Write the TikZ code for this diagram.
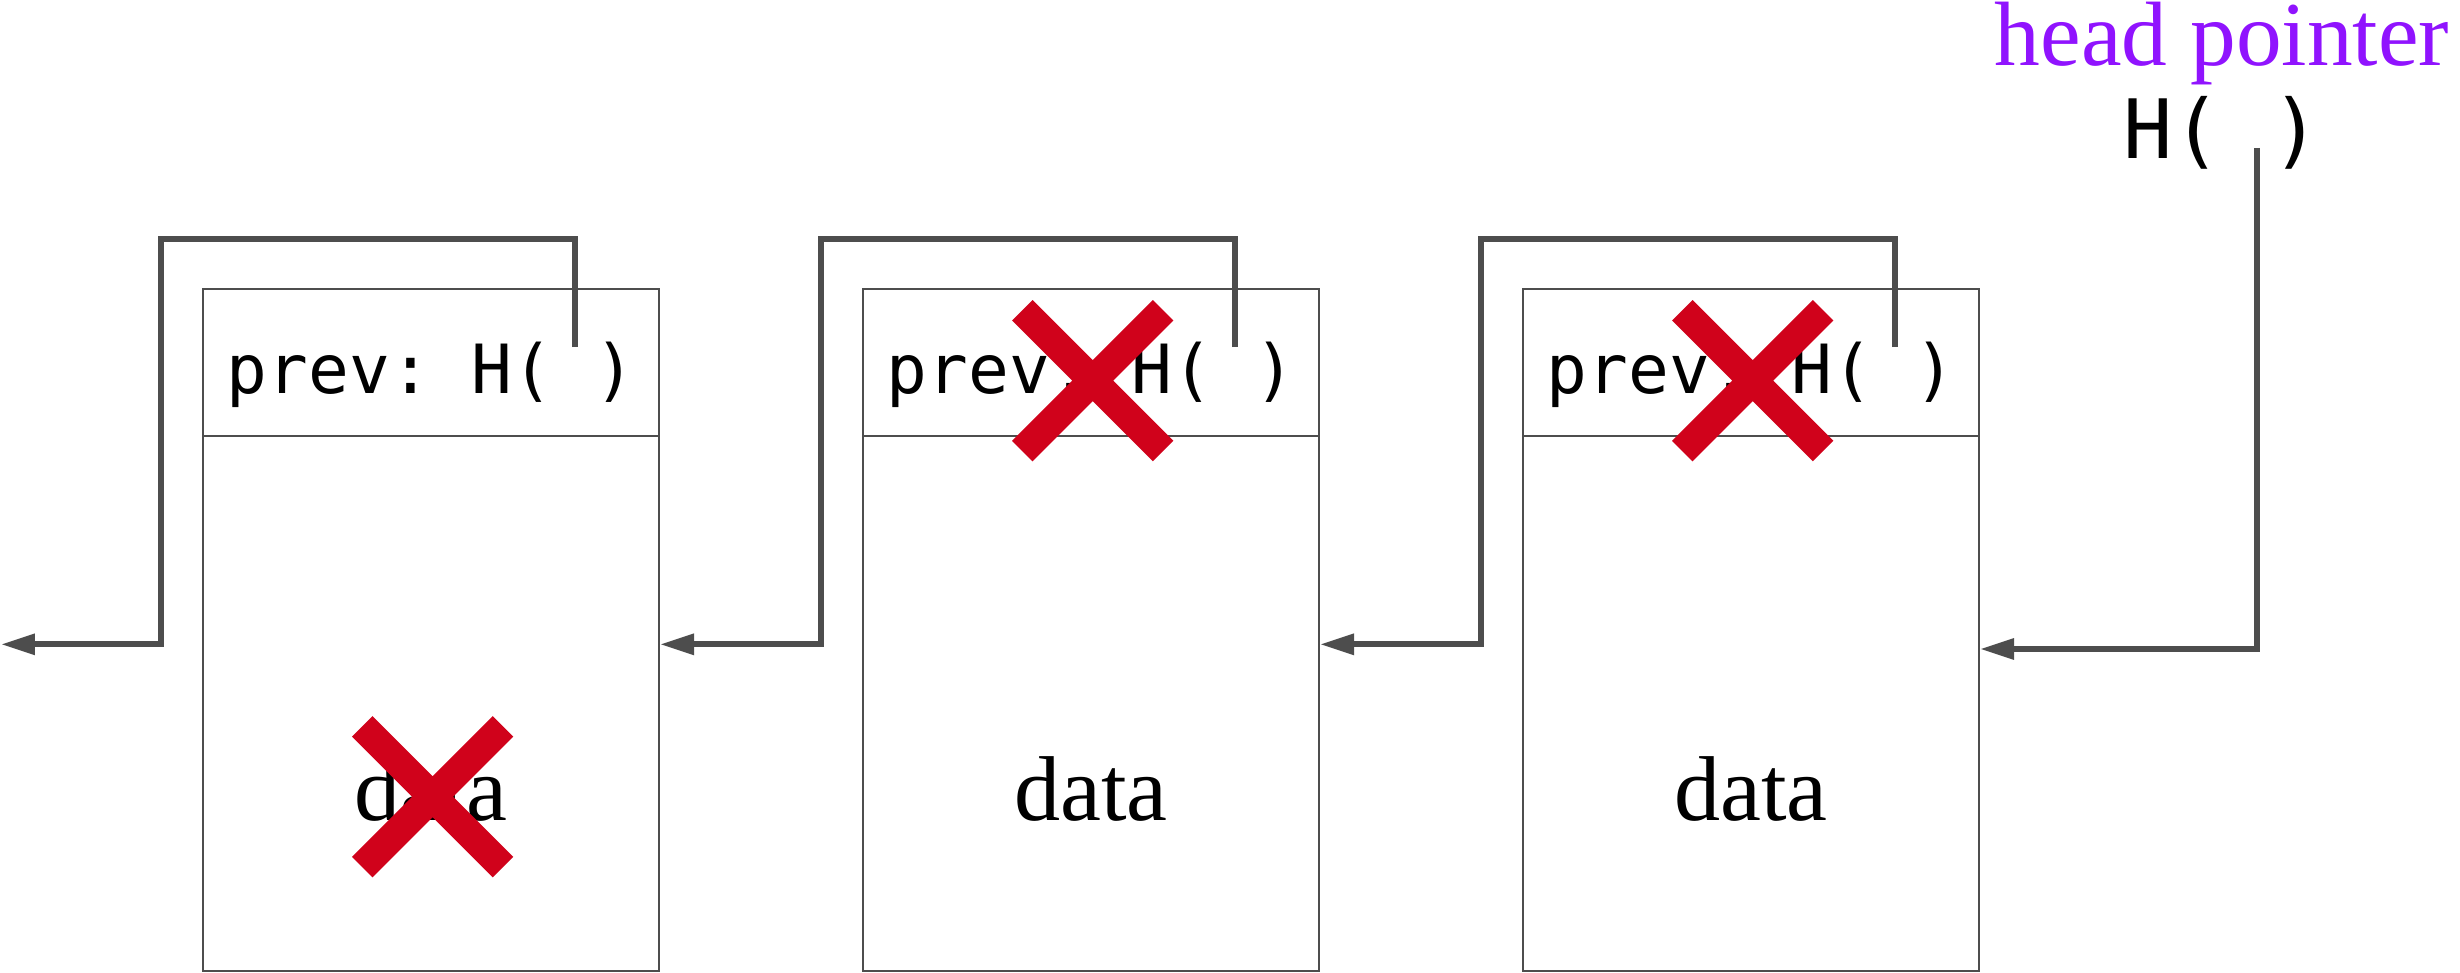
\documentclass[tikz,border=0pt]{standalone}
\usepackage{fontspec}
\setmainfont{Liberation Serif}
\setmonofont{DejaVu Sans Mono}
\usetikzlibrary{arrows.meta}

\definecolor{linegray}{HTML}{4D4D4D}
\definecolor{crossred}{HTML}{D0021B}
\definecolor{headpurple}{HTML}{9013FE}

\tikzset{
	cell/.style={draw=linegray, line width=0.02cm, minimum width=4.56cm, inner xsep=0pt},
	prevfield/.style={cell, text height=1.04cm, text depth=0.43cm, inner ysep=0pt, anchor=north, font=\ttfamily\fontsize{19.3}{23}\selectfont},
	datafield/.style={anchor=base, font=\fontsize{26.2}{30}\selectfont},
	link/.style={draw=linegray, line width=0.06cm, -{Triangle[length=0.34cm, width=0.2cm]}},
	redcross/.style={draw=crossred, line width=0.29cm}
}

\begin{document}
\begin{tikzpicture}
		\useasboundingbox (0, 0) rectangle (24.6, 9.72);

		\node [cell, minimum height=6.82cm]	(box1) at (4.31, 3.42) {};
		\node [cell, minimum height=6.82cm]	(box2) at (10.91, 3.42) {};
		\node [cell, minimum height=6.82cm]	(box3) at (17.51, 3.42) {};

		\node [prevfield]	(prev1) at (box1.north) {prev: H( )};
		\node [prevfield]	(prev2) at (box2.north) {prev: H( )};
		\node [prevfield]	(prev3) at (box3.north) {prev: H( )};

		\node [datafield]	(data1) at (4.31, 1.52) {data};
		\node [datafield]	(data2) at (10.91, 1.52) {data};
		\node [datafield]	(data3) at (17.51, 1.52) {data};

		\node [anchor=base, inner sep=0pt, text=headpurple, font=\fontsize{26}{30}\selectfont]	(headlabel) at (22.22, 9.06) {head pointer};
		\node [anchor=base, font=\ttfamily\fontsize{23.3}{28}\selectfont]	(head) at (22.22, 8.13) {H( )};

		\coordinate (ptr1) at (5.746, 6.25);
		\coordinate (ptr2) at (12.346, 6.25);
		\coordinate (ptr3) at (18.946, 6.25);
		\coordinate (hptr) at (22.567, 8.24);

		\coordinate (bend1) at (1.607, 7.33);
		\coordinate (bend2) at (8.207, 7.33);
		\coordinate (bend3) at (14.807, 7.33);

		\coordinate (in0) at (0.01, 3.277);
		\coordinate (in1) at (6.60, 3.277);
		\coordinate (in2) at (13.20, 3.277);
		\coordinate (in3) at (19.80, 3.23);

		\draw [link]	(ptr1) |- (bend1) |- (in0);
		\draw [link]	(ptr2) |- (bend2) |- (in1);
		\draw [link]	(ptr3) |- (bend3) |- (in2);
		\draw [link]	(hptr) |- (in3);

		\draw [redcross]	(4.326, 1.753) ++(-0.704, -0.704) -- ++(1.408, 1.408) ++(0, -1.408) -- ++(-1.408, 1.408);
		\draw [redcross]	(10.927, 5.913) ++(-0.704, -0.704) -- ++(1.408, 1.408) ++(0, -1.408) -- ++(-1.408, 1.408);
		\draw [redcross]	(17.527, 5.913) ++(-0.704, -0.704) -- ++(1.408, 1.408) ++(0, -1.408) -- ++(-1.408, 1.408);
	\end{tikzpicture}
\end{document}
